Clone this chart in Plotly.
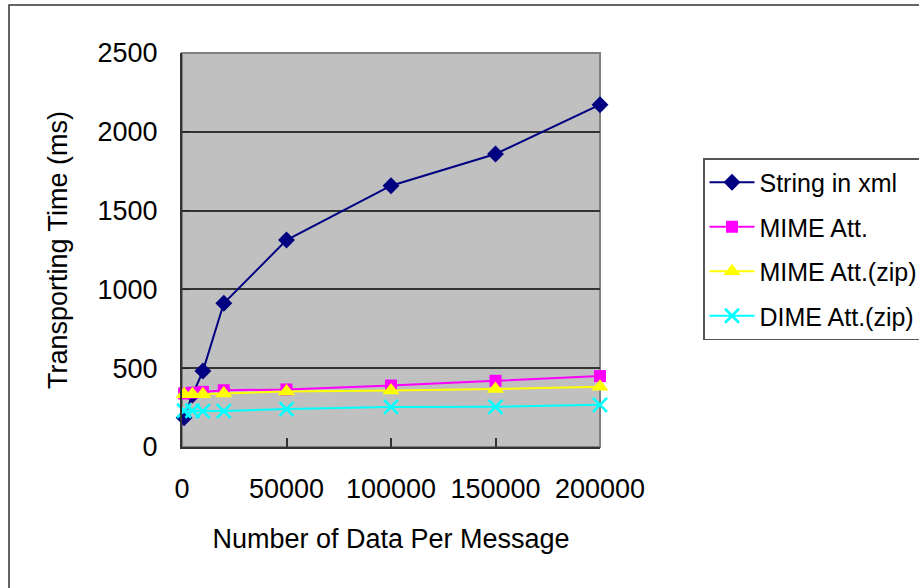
import plotly.graph_objects as go

# number of data per message
x_vals = [1000, 5000, 10000, 20000, 50000, 100000, 150000, 200000]

string_xml = [186, 330, 482, 912, 1313, 1658, 1859, 2172]
mime_att = [340, 345, 350, 360, 365, 390, 420, 450]
mime_zip = [335, 335, 335, 340, 352, 358, 368, 383]
dime_zip = [230, 230, 228, 228, 241, 254, 255, 268]

series = [
    ("String in xml", string_xml, "#000080", "diamond", 13),
    ("MIME Att.", mime_att, "#FF00FF", "square", 12),
    ("MIME Att.(zip)", mime_zip, "#FFFF00", "triangle-up", 15),
    ("DIME Att.(zip)", dime_zip, "#00FFFF", "x-thin", 14),
]

FONT = "Arial, Liberation Sans, sans-serif"

fig = go.Figure()
for i, (name, ys, col, sym, sz) in enumerate(series):
    fig.add_trace(go.Scatter(
        x=x_vals, y=ys, name=name, mode="lines+markers",
        line=dict(color=col, width=2),
        marker=dict(symbol=sym, size=sz, color=col,
                    line=dict(color=col, width=2.5 if sym == "x-thin" else 0)),
        legendgroup="g%d" % i, cliponaxis=False,
    ))

# plot area left 182, right 600, top 53, bottom 447
L, R, T, B = 182, 600, 53, 447
W, H = 919, 588
pw, ph = R - L, B - T

fig.update_xaxes(range=[0, 200000], dtick=50000, tick0=0, tickformat="d",
                 showgrid=False, automargin=False,
                 ticks="inside", ticklen=9, tickcolor="#333333", tickwidth=1.5,
                 showline=True, linecolor="#333333", linewidth=2, mirror=False,
                 zeroline=False, ticklabelstandoff=17,
                 tickfont=dict(family=FONT, size=27, color="black"),
                 title=dict(text="Number of Data Per Message", standoff=26,
                            font=dict(family=FONT, size=27, color="black")))
fig.update_yaxes(range=[0, 2500], dtick=500, tickformat="d", automargin=False,
                 showgrid=True, gridcolor="#333333",
                 gridwidth=1.5, ticks="inside", ticklen=8, tickcolor="#222222",
                 showline=True, linecolor="#333333", linewidth=2, zeroline=False,
                 ticklabelstandoff=17,
                 tickfont=dict(family=FONT, size=27, color="black"),
                 title=dict(text="Transporting Time (ms)", standoff=22,
                            font=dict(family=FONT, size=27, color="black")))

# gray frame on plot area + outer chart border
fig.add_shape(type="rect", xref="paper", yref="paper", x0=0, x1=1, y0=0, y1=1,
              line=dict(color="#808080", width=2), layer="below")
fig.add_shape(type="rect", xref="paper", yref="paper",
              x0=(9 - L) / pw, x1=(930 - L) / pw, y0=(B - 600) / ph, y1=(B - 5) / ph,
              line=dict(color="#333333", width=1.5))

fig.update_layout(
    width=W, height=H,
    margin=dict(l=L, r=W - R, t=T, b=H - B, autoexpand=False),
    plot_bgcolor="#C0C0C0", paper_bgcolor="white",
    font=dict(family=FONT, size=27, color="black"),
    showlegend=True,
    legend=dict(xref="container", yref="container",
                x=703 / W, y=1 - 158 / H, xanchor="left", yanchor="top",
                bgcolor="white", bordercolor="#555555", borderwidth=1.5,
                font=dict(family=FONT, size=25, color="black"),
                tracegroupgap=9, itemwidth=45),
)

# drop the default 8px page margin so the figure sits at the window corner
fig.write_html("out.html", config={"displayModeBar": False},
               post_script="document.body.style.margin='0';document.body.style.overflow='hidden';")
